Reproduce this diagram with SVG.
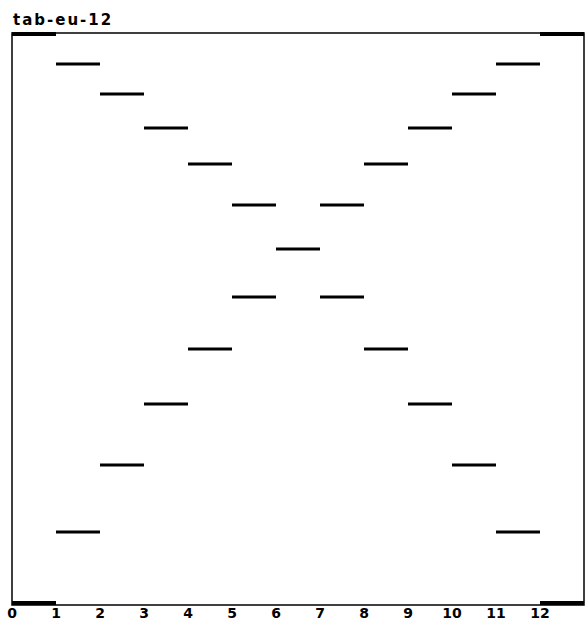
<svg xmlns="http://www.w3.org/2000/svg" width="586" height="621" viewBox="0 0 586 621">
<style>
.frame{fill:none;stroke:#000;stroke-width:1.5}
.thick{stroke:#000;stroke-width:4}
.bar{stroke:#000;stroke-width:3}
.lbl{font-family:"DejaVu Sans",sans-serif;font-weight:bold;font-size:14px;fill:#000;text-anchor:middle}
.title{font-family:"DejaVu Sans",sans-serif;font-weight:bold;font-size:15px;letter-spacing:2px;fill:#000}
</style>
<rect width="586" height="621" fill="#fff"/>
<text class="title" x="13" y="25">tab-eu-12</text>
<g id="frame">
<rect class="frame" x="12" y="33" width="572" height="572"/>
<line class="thick" x1="12" y1="34" x2="56" y2="34"/>
<line class="thick" x1="540" y1="34" x2="584" y2="34"/>
<line class="thick" x1="12" y1="603" x2="56" y2="603"/>
<line class="thick" x1="540" y1="603" x2="584" y2="603"/>
</g>
<g id="bars">
<line class="bar" x1="56" y1="64" x2="100" y2="64"/><line class="bar" x1="496" y1="64" x2="540" y2="64"/>
<line class="bar" x1="100" y1="94" x2="144" y2="94"/><line class="bar" x1="452" y1="94" x2="496" y2="94"/>
<line class="bar" x1="144" y1="128" x2="188" y2="128"/><line class="bar" x1="408" y1="128" x2="452" y2="128"/>
<line class="bar" x1="188" y1="164" x2="232" y2="164"/><line class="bar" x1="364" y1="164" x2="408" y2="164"/>
<line class="bar" x1="232" y1="205" x2="276" y2="205"/><line class="bar" x1="320" y1="205" x2="364" y2="205"/>
<line class="bar" x1="276" y1="249" x2="320" y2="249"/>
<line class="bar" x1="232" y1="297" x2="276" y2="297"/><line class="bar" x1="320" y1="297" x2="364" y2="297"/>
<line class="bar" x1="188" y1="349" x2="232" y2="349"/><line class="bar" x1="364" y1="349" x2="408" y2="349"/>
<line class="bar" x1="144" y1="404" x2="188" y2="404"/><line class="bar" x1="408" y1="404" x2="452" y2="404"/>
<line class="bar" x1="100" y1="465" x2="144" y2="465"/><line class="bar" x1="452" y1="465" x2="496" y2="465"/>
<line class="bar" x1="56" y1="532" x2="100" y2="532"/><line class="bar" x1="496" y1="532" x2="540" y2="532"/>
</g>
<g id="axis">
<text class="lbl" x="12" y="618">0</text>
<text class="lbl" x="56" y="618">1</text>
<text class="lbl" x="100" y="618">2</text>
<text class="lbl" x="144" y="618">3</text>
<text class="lbl" x="188" y="618">4</text>
<text class="lbl" x="232" y="618">5</text>
<text class="lbl" x="276" y="618">6</text>
<text class="lbl" x="320" y="618">7</text>
<text class="lbl" x="364" y="618">8</text>
<text class="lbl" x="408" y="618">9</text>
<text class="lbl" x="452" y="618">10</text>
<text class="lbl" x="496" y="618">11</text>
<text class="lbl" x="540" y="618">12</text>
</g>
</svg>
